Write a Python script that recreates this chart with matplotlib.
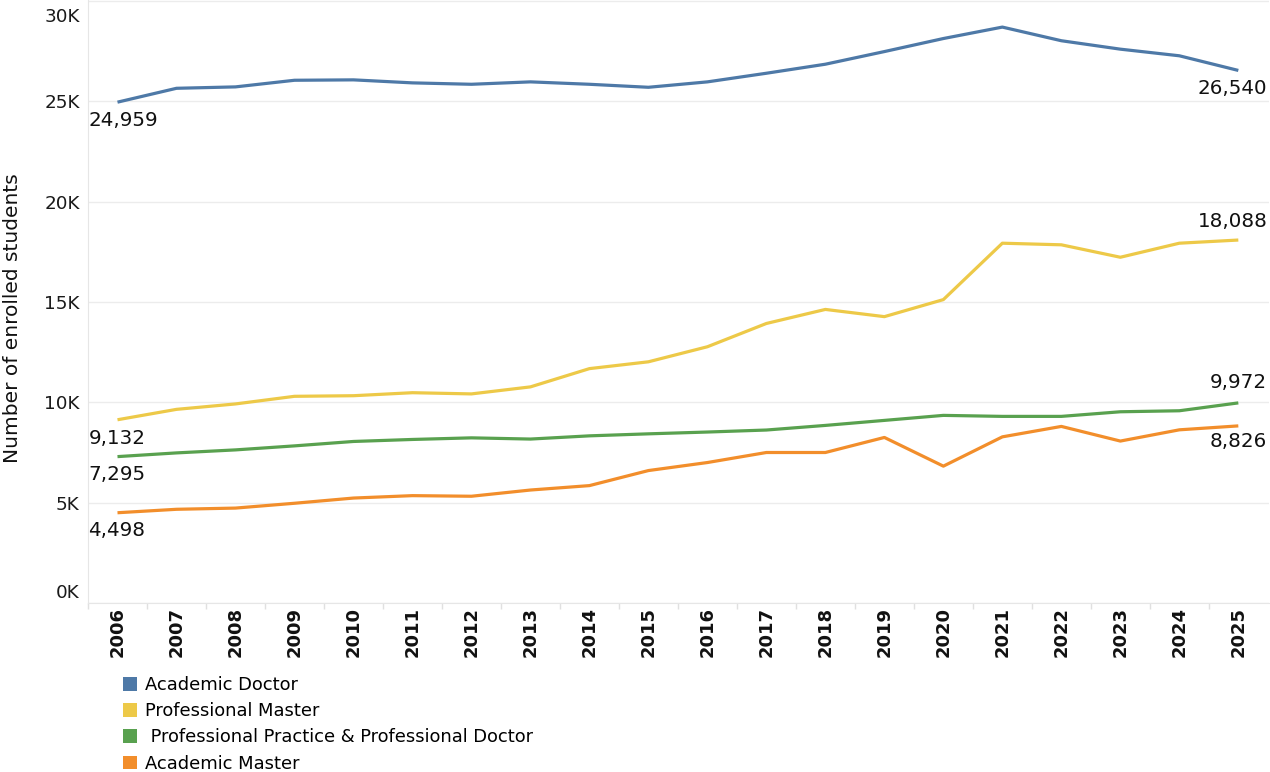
import matplotlib
matplotlib.use("Agg")
import matplotlib.pyplot as plt
import matplotlib.transforms as mtransforms
from matplotlib.patches import Patch
import numpy as np

years = list(range(2006, 2026))

academic_doctor = [24959, 25650, 25720, 26050, 26070, 25920, 25850, 25970, 25850, 25700,
                   25970, 26400, 26850, 27480, 28130, 28700, 28020, 27600, 27270, 26540]
professional_master = [9132, 9650, 9920, 10300, 10330, 10480, 10420, 10770, 11680, 12020,
                       12770, 13930, 14630, 14270, 15120, 17930, 17850, 17230, 17930, 18088]
professional_practice = [7295, 7480, 7630, 7830, 8050, 8150, 8230, 8170, 8330, 8430,
                         8520, 8620, 8850, 9100, 9350, 9300, 9300, 9530, 9580, 9972]
academic_master = [4498, 4670, 4730, 4970, 5230, 5350, 5320, 5630, 5850, 6600,
                   7000, 7500, 7500, 8250, 6820, 8280, 8800, 8070, 8630, 8826]

series_names = ["Academic Doctor", "Professional Master",
                " Professional Practice & Professional Doctor", "Academic Master"]
series_values = [academic_doctor, professional_master, professional_practice, academic_master]
colors = ["#4e79a7", "#edc948", "#59a14f", "#f28e2b"]
# label offsets (pixels) for first / last labels: negative = below point
start_offsets = [-18, -19, -18, -18]
end_offsets = [-18, 19, 20, -16]

y_ticks = [0, 5000, 10000, 15000, 20000, 25000, 30000]
y_tick_labels = ["0K", "5K", "10K", "15K", "20K", "25K", "30K"]

W, H = 1270, 772
fig = plt.figure(figsize=(W / 100, H / 100), dpi=100)
ax = fig.add_axes([88 / W, 1 - 603 / H, (1269 - 88) / W, 603 / H])

font = "DejaVu Sans"
for name, vals, c in zip(series_names, series_values, colors):
    ax.plot(years, vals, color=c, lw=2.3, solid_capstyle="butt", zorder=3)

ax.set_xlim(2005.5, 2025.52)
ax.set_ylim(0, 30050)
ax.set_yticks(y_ticks)
ax.set_yticklabels(y_tick_labels, fontsize=13.2, family=font, color="#1a1a1a")
ax.set_xticks(years)
ax.set_xticklabels([str(y) for y in years], rotation=90, fontsize=13, family=font,
                   color="#111111", fontweight="bold")
ax.set_xticks([y + 0.5 for y in years[:-1]] + [2005.5], minor=True)
ax.tick_params(axis="x", which="major", length=0, pad=3)
ax.tick_params(axis="x", which="minor", length=4, color="#e0e0e0", width=1)
ax.tick_params(axis="y", length=0, pad=6)

ax.grid(axis="y", color="#ececec", lw=1)
ax.set_axisbelow(True)
for s in ["top", "right"]:
    ax.spines[s].set_visible(False)
ax.spines["left"].set_color("#e6e6e6")
ax.spines["bottom"].set_color("#e6e6e6")

# shift edge tick labels inward like Tableau
ylabels = ax.get_yticklabels()
ylabels[0].set_transform(ylabels[0].get_transform() +
                         mtransforms.ScaledTranslation(0, 12 / 100, fig.dpi_scale_trans))
ylabels[-1].set_transform(ylabels[-1].get_transform() +
                          mtransforms.ScaledTranslation(0, -14 / 100, fig.dpi_scale_trans))

ax.set_ylabel("Number of enrolled students", fontsize=14.5, family=font, color="#111111")
ax.yaxis.set_label_coords(-66 / (1269 - 88), 1 - 318 / 603)

for vals, so, eo in zip(series_values, start_offsets, end_offsets):
    ax.annotate(f"{vals[0]:,}", xy=(years[0], vals[0]), xytext=(-29, so),
                textcoords="offset pixels", ha="left", va="center",
                fontsize=14.3, family=font, color="#111111")
    ax.annotate(f"{vals[-1]:,}", xy=(years[-1], vals[-1]), xytext=(29, eo),
                textcoords="offset pixels", ha="right", va="center",
                fontsize=14.3, family=font, color="#111111")

handles = [Patch(facecolor=c, edgecolor="none") for c in colors]
fig.legend(handles, series_names, loc="upper left",
           bbox_to_anchor=(123 / W, 1 - 676 / H), frameon=False,
           handlelength=0.8, handleheight=0.8, handletextpad=0.45,
           labelspacing=0.46, borderpad=0, borderaxespad=0,
           prop={"family": font, "size": 12.9})

fig.savefig("out.png", dpi=100)
